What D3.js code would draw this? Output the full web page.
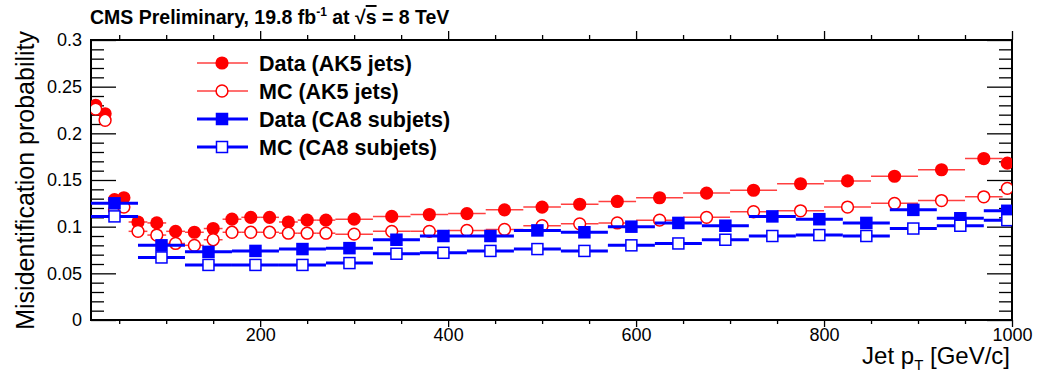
<!DOCTYPE html>
<html>
<head>
<meta charset="utf-8">
<script src="https://cdn.jsdelivr.net/npm/d3@7"></script>
<style>
  html, body { margin: 0; padding: 0; background: #fff; }
  svg { display: block; }
  text { font-family: "Liberation Sans", Arial, Helvetica, sans-serif; fill: #000; }
</style>
</head>
<body>
<svg id="chart" width="1041" height="375"></svg>
<script>
// ---------------- data ----------------
const ak5Edges = [20,30,40,50,60,80,100,120,140,160,180,200,220,240,260,280,320,360,400,440,480,520,560,600,650,700,750,800,850,900,950,990,1000];
const ak5Data  = [0.230,0.221,0.129,0.131,0.105,0.104,0.095,0.094,0.098,0.108,0.110,0.110,0.105,0.107,0.107,0.108,0.111,0.113,0.114,0.118,0.121,0.124,0.127,0.131,0.136,0.139,0.146,0.149,0.154,0.161,0.173,0.168];
const ak5MC    = [0.226,0.214,0.118,0.121,0.095,0.091,0.082,0.080,0.086,0.094,0.094,0.094,0.093,0.093,0.093,0.092,0.095,0.095,0.096,0.097,0.101,0.103,0.104,0.107,0.110,0.116,0.117,0.121,0.125,0.128,0.132,0.141];
const ca8Edges = [20,70,120,170,220,270,320,370,420,470,520,570,620,670,720,770,820,870,920,970,1020];
const ca8Data  = [0.125,0.080,0.073,0.074,0.076,0.077,0.086,0.090,0.090,0.096,0.094,0.100,0.104,0.101,0.111,0.108,0.104,0.118,0.109,0.117];
const ca8MC    = [0.111,0.067,0.059,0.059,0.059,0.061,0.071,0.072,0.074,0.076,0.074,0.080,0.082,0.086,0.090,0.091,0.090,0.098,0.101,0.107];

const xDomain = [20, 1000];
const yDomain = [0, 0.3];
const xMajorTicks = [200, 400, 600, 800, 1000];
const xMinorTicks = [50,100,150,250,300,350,450,500,550,650,700,750,850,900,950];
const yMajorTicks = [0, 0.05, 0.1, 0.15, 0.2, 0.25, 0.3];
const yMinorTicks = [0.01,0.02,0.03,0.04,0.06,0.07,0.08,0.09,0.11,0.12,0.13,0.14,0.16,0.17,0.18,0.19,0.21,0.22,0.23,0.24,0.26,0.27,0.28,0.29];

const legendItems = [
  {label: "Data (AK5 jets)",    color: "#ff0000", shape: "circle", filled: true,  thick: false},
  {label: "MC (AK5 jets)",      color: "#ff0000", shape: "circle", filled: false, thick: false},
  {label: "Data (CA8 subjets)", color: "#0000ff", shape: "square", filled: true,  thick: true},
  {label: "MC (CA8 subjets)",   color: "#0000ff", shape: "square", filled: false, thick: true}
];

// ---------------- layout ----------------
const L = 91, R = 1012, T = 40, B = 320;
const svg = d3.select("#chart");
const x = d3.scaleLinear().domain(xDomain).range([L, R]);
const y = d3.scaleLinear().domain(yDomain).range([B, T]);

svg.append("defs").append("clipPath").attr("id", "clip")
  .append("rect").attr("x", L).attr("y", T).attr("width", R - L).attr("height", B - T);

function fmtY(d) { return d === 0 ? "0" : String(+d.toFixed(2)); }

// axes
function styleAxis(g) {
  g.select(".domain").remove();
  g.selectAll(".tick line").attr("stroke", "#000").attr("stroke-width", 1.3);
}
svg.append("g").attr("transform", `translate(${L},0)`)
  .call(d3.axisLeft(y).tickValues(yMajorTicks).tickSize(-25).tickPadding(9).tickFormat(fmtY))
  .call(styleAxis)
  .call(g => g.selectAll("text").attr("font-size", 18).attr("fill", "#000"));
svg.append("g").attr("transform", `translate(${L},0)`)
  .call(d3.axisLeft(y).tickValues(yMinorTicks).tickSize(-13).tickFormat(""))
  .call(styleAxis);
svg.append("g").attr("transform", `translate(${R},0)`)
  .call(d3.axisRight(y).tickValues(yMajorTicks).tickSize(-25).tickFormat(""))
  .call(styleAxis);
svg.append("g").attr("transform", `translate(${R},0)`)
  .call(d3.axisRight(y).tickValues(yMinorTicks).tickSize(-13).tickFormat(""))
  .call(styleAxis);

svg.append("g").attr("transform", `translate(0,${B})`)
  .call(d3.axisBottom(x).tickValues(xMajorTicks).tickSize(7).tickPadding(1).tickFormat(d3.format("d")))
  .call(styleAxis)
  .call(g => g.selectAll("text").attr("font-size", 18).attr("fill", "#000"));
svg.append("g").attr("transform", `translate(0,${B})`)
  .call(d3.axisBottom(x).tickValues(xMinorTicks).tickSize(4).tickFormat(""))
  .call(styleAxis);
svg.append("g").attr("transform", `translate(0,${T})`)
  .call(d3.axisTop(x).tickValues(xMajorTicks).tickSize(9).tickFormat(""))
  .call(styleAxis);
svg.append("g").attr("transform", `translate(0,${T})`)
  .call(d3.axisTop(x).tickValues(xMinorTicks).tickSize(5).tickFormat(""))
  .call(styleAxis);

// frame
svg.append("rect").attr("x", L).attr("y", T).attr("width", R - L).attr("height", B - T)
  .attr("fill", "none").attr("stroke", "#000").attr("stroke-width", 2);

// ---------------- series ----------------
function makeSeries(edges, vals) {
  return vals.map((v, i) => ({lo: edges[i], hi: edges[i + 1], c: (edges[i] + edges[i + 1]) / 2, v}));
}
const plot = svg.append("g").attr("clip-path", "url(#clip)");

function drawSeries(data, opt) {
  const g = plot.append("g");
  g.selectAll("line.err").data(data).join("line")
    .attr("x1", d => x(d.lo)).attr("x2", d => x(d.hi))
    .attr("y1", d => y(d.v)).attr("y2", d => y(d.v))
    .attr("stroke", opt.color).attr("stroke-width", opt.thick ? 3 : 1.5)
    .attr("stroke-opacity", opt.thick ? 1 : 0.75);
  drawMarkers(g, data.map(d => [x(d.c), y(d.v)]), opt);
}
function drawMarkers(g, pts, opt) {
  if (opt.shape === "circle") {
    g.selectAll("circle.m").data(pts).join("circle")
      .attr("cx", p => p[0]).attr("cy", p => p[1])
      .attr("r", opt.filled ? 6.6 : 5.9)
      .attr("fill", opt.filled ? opt.color : "#fff")
      .attr("stroke", opt.filled ? "none" : opt.color)
      .attr("stroke-width", 1.5);
  } else {
    const s = opt.filled ? 12.5 : 11;
    g.selectAll("rect.m").data(pts).join("rect")
      .attr("x", p => p[0] - s / 2).attr("y", p => p[1] - s / 2)
      .attr("width", s).attr("height", s)
      .attr("fill", opt.filled ? opt.color : "#fff")
      .attr("stroke", opt.filled ? "none" : opt.color)
      .attr("stroke-width", 1.5);
  }
}
drawSeries(makeSeries(ak5Edges, ak5Data), legendItems[0]);
drawSeries(makeSeries(ak5Edges, ak5MC),   legendItems[1]);
drawSeries(makeSeries(ca8Edges, ca8Data), legendItems[2]);
drawSeries(makeSeries(ca8Edges, ca8MC),   legendItems[3]);

// ---------------- legend ----------------
const legY = [63, 91, 119, 147];
legendItems.forEach((it, i) => {
  const g = svg.append("g");
  g.append("line").attr("x1", 197).attr("x2", 248).attr("y1", legY[i]).attr("y2", legY[i])
    .attr("stroke", it.color).attr("stroke-width", it.thick ? 3 : 1.5)
    .attr("stroke-opacity", it.thick ? 1 : 0.75);
  drawMarkers(g, [[222, legY[i]]], it);
  g.append("text").attr("x", 259).attr("y", legY[i]).attr("dy", "0.36em")
    .attr("font-size", 21.5).attr("font-weight", "bold").text(it.label);
});

// ---------------- titles ----------------
const title = svg.append("text").attr("x", 90).attr("y", 24)
  .attr("font-size", 19.5).attr("font-weight", "bold");
title.append("tspan").text("CMS Preliminary, 19.8 fb");
title.append("tspan").attr("font-size", 12).attr("dy", -8).text("-1");
title.append("tspan").attr("dy", 8).text(" at \u221A");
title.append("tspan").style("text-decoration", "overline").text("s");
title.append("tspan").text(" = 8 TeV");

svg.append("text").attr("transform", "translate(34,31) rotate(-90)")
  .attr("text-anchor", "end").attr("font-size", 25)
  .text("Misidentification probability");

const xl = svg.append("text").attr("x", 1010).attr("y", 364).attr("text-anchor", "end").attr("font-size", 24);
xl.append("tspan").text("Jet p");
xl.append("tspan").attr("font-size", 15).attr("dy", 6).text("T");
xl.append("tspan").attr("dy", -6).text(" [GeV/c]");
</script>
</body>
</html>
